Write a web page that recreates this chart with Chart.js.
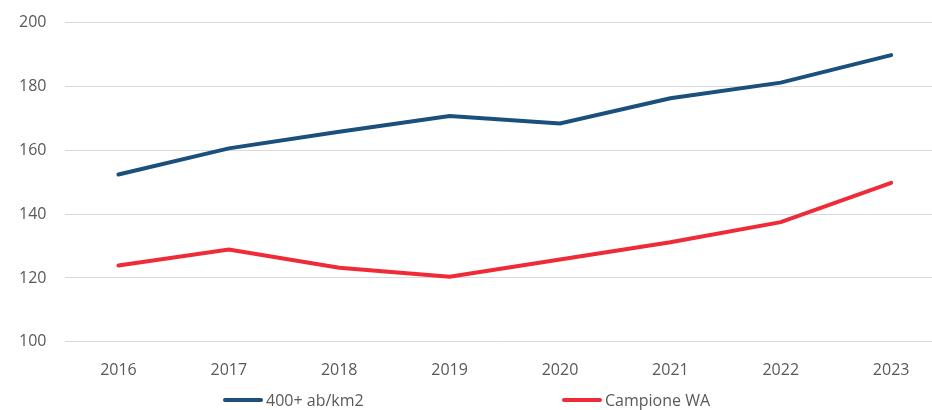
<!DOCTYPE html>
<html><head><meta charset="utf-8">
<script src="https://cdn.jsdelivr.net/npm/chart.js@4"></script>
<style>
html,body{margin:0;padding:0;background:#fff;}
#wrap{position:relative;width:932px;height:410px;overflow:hidden;}
#c{position:absolute;left:0;top:-6px;}
#legend{position:absolute;left:0;top:390px;width:932px;height:20px;font-family:"Open Sans",sans-serif;font-size:16px;color:#595959;}
.item{position:absolute;top:0;display:flex;align-items:center;height:20px;}
.sw{width:40px;height:4px;border-radius:2px;margin-right:3px;}
</style></head>
<body>
<div id="wrap"><canvas id="c" width="932" height="416"></canvas>
<div id="legend"></div></div>
<script>
const years = [2016, 2017, 2018, 2019, 2020, 2021, 2022, 2023];
const seriesNames = ["400+ ab/km2", "Campione WA"];
const dense = [152.4, 160.6, 165.8, 170.7, 168.4, 176.3, 181.2, 189.8];
const campione = [123.9, 128.9, 123.2, 120.4, 125.8, 131.2, 137.5, 149.8];
const yTicks = [100, 120, 140, 160, 180, 200];
const colors = ["#1b4f7c", "#ee2b36"];

const toPts = arr => arr.map((v, i) => ({x: years[i], y: v}));
new Chart(document.getElementById('c'), {
  type: 'line',
  data: {
    datasets: [
      {label: seriesNames[0], data: toPts(dense), borderColor: colors[0], borderWidth: 4, pointRadius: 0, tension: 0, borderCapStyle: 'round'},
      {label: seriesNames[1], data: toPts(campione), borderColor: colors[1], borderWidth: 4, pointRadius: 0, tension: 0, borderCapStyle: 'round'}
    ]
  },
  options: {
    responsive: false, animation: false,
    layout: {padding: {left: 0, right: 0, top: 3, bottom: 11}},
    plugins: {legend: {display: false}, tooltip: {enabled: false}},
    scales: {
      x: {
        type: 'linear', min: 2015.52, max: 2023.37,
        afterBuildTicks: s => { s.ticks = years.map(v => ({value: v})); },
        grid: {display: false, drawTicks: false}, border: {display: false},
        ticks: {padding: 19, color: '#595959', font: {family: 'Open Sans', size: 16}, callback: v => String(v)}
      },
      y: {
        min: 100, max: 200,
        afterBuildTicks: s => { s.ticks = yTicks.map(v => ({value: v})); },
        grid: {color: '#d9d9d9', lineWidth: 1, drawTicks: false}, border: {display: false},
        ticks: {padding: 19, color: '#595959', font: {family: 'Open Sans', size: 16}}
      }
    }
  }
});
const lg = document.getElementById('legend');
const lefts = [223, 562];
seriesNames.forEach((n, i) => {
  const d = document.createElement('div'); d.className = 'item'; d.style.left = lefts[i] + 'px';
  d.innerHTML = '<div class="sw" style="background:' + colors[i] + '"></div><span>' + n + '</span>';
  lg.appendChild(d);
});
</script>
</body></html>
